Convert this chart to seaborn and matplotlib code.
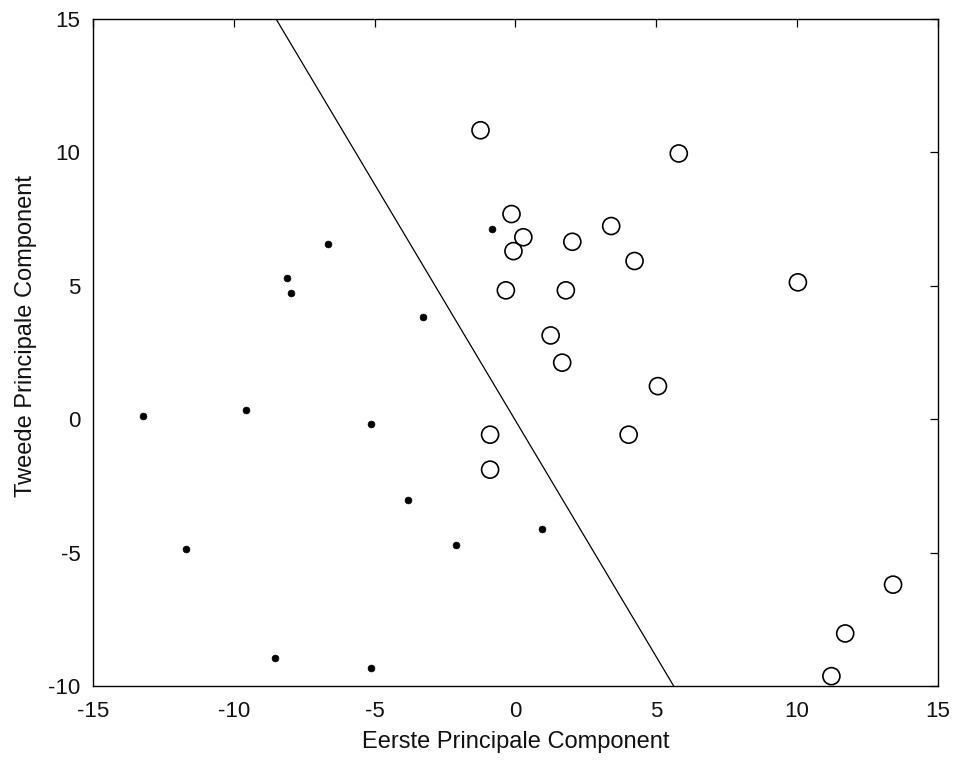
import numpy as np
import pandas as pd
import matplotlib
matplotlib.use('Agg')
import matplotlib.pyplot as plt
import seaborn as sns

# klasse 1 (punten)
dots_x = [-13.24, -11.71, -9.57, -8.54, -8.12, -7.97, -6.66, -5.14, -5.14, -3.83, -3.29, -2.10, -0.85, 0.95]
dots_y = [0.12, -4.85, 0.34, -8.95, 5.30, 4.72, 6.56, -0.17, -9.31, -3.04, 3.84, -4.70, 7.14, -4.13]

# klasse 2 (open cirkels)
circ_x = [-1.24, 5.80, -0.14, 0.28, -0.07, 2.02, 3.40, 4.23, -0.34, 1.79, 1.25, 1.66, 5.06, -0.90, 4.02, -0.90,
          10.03, 13.41, 11.71, 11.22]
circ_y = [10.83, 9.96, 7.69, 6.82, 6.30, 6.65, 7.24, 5.93, 4.83, 4.83, 3.14, 2.12, 1.24, -0.58, -0.58, -1.89,
          5.13, -6.20, -8.03, -9.63]

# scheidingslijn
line_x = [-8.50, 5.62]
line_y = [15, -10]

ticks_x = [-15, -10, -5, 0, 5, 10, 15]
ticks_y = [-10, -5, 0, 5, 10, 15]

sns.set_theme(style='white')
plt.rcParams['font.family'] = ['Liberation Sans', 'DejaVu Sans']
plt.rcParams['axes.unicode_minus'] = False
plt.rcParams['xtick.direction'] = 'in'
plt.rcParams['ytick.direction'] = 'in'

df_dots = pd.DataFrame({'pc1': dots_x, 'pc2': dots_y})
df_circ = pd.DataFrame({'pc1': circ_x, 'pc2': circ_y})
df_line = pd.DataFrame({'pc1': line_x, 'pc2': line_y})

fig = plt.figure(figsize=(9.57, 7.66), dpi=100)
ax = fig.add_axes([0.0972, 0.1044, 0.8828, 0.8708])

sns.scatterplot(data=df_dots, x='pc1', y='pc2', ax=ax, marker='o', s=24, color='black',
                edgecolor='black', linewidth=0.5, zorder=3)
sns.scatterplot(data=df_circ, x='pc1', y='pc2', ax=ax, marker='o', s=150, facecolor='none',
                edgecolor='black', linewidth=1.2, zorder=3)
sns.lineplot(data=df_line, x='pc1', y='pc2', ax=ax, color='black', linewidth=0.9, sort=False)

ax.set_xlim(-15, 15)
ax.set_ylim(-10, 15)
ax.set_xticks(ticks_x)
ax.set_yticks(ticks_y)
ax.tick_params(axis='both', which='both', direction='in', length=6, width=0.9, color='black',
               top=True, right=True, labelsize=16, labelcolor='#111111')
ax.tick_params(axis='x', pad=11)
ax.tick_params(axis='y', pad=9)
for sp in ax.spines.values():
    sp.set_color('black')
    sp.set_linewidth(1.0)

ax.set_xlabel('Eerste Principale Component', fontsize=17, color='#111111', labelpad=6)
ax.set_ylabel('Tweede Principale Component', fontsize=17, color='#111111')
ax.yaxis.set_label_coords(-0.066, 0.525)

fig.savefig('out.png', dpi=100)
